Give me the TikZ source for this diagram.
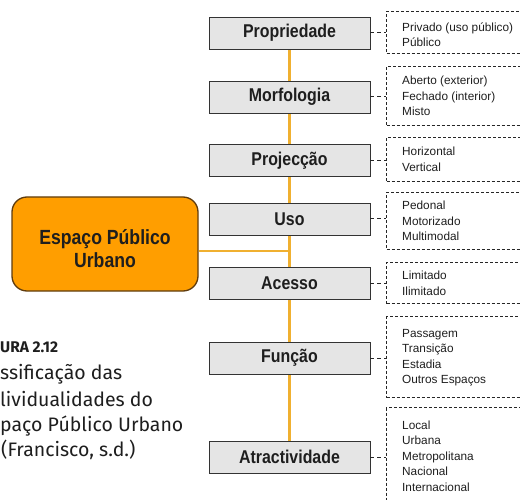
\documentclass[tikz,border=0pt]{standalone}
\usepackage{fontspec}
\setmainfont{Liberation Sans}
\newfontfamily\labfont[FakeStretch=0.86]{Liberation Sans}
\newfontfamily\capfont{Fira Sans}
\usetikzlibrary{backgrounds}
\definecolor{lineor}{RGB}{240,176,48}
\definecolor{boxor}{RGB}{255,158,0}
\definecolor{boxbd}{RGB}{95,60,15}
\definecolor{grayfill}{RGB}{229,229,229}
\definecolor{txt}{RGB}{30,30,30}
\begin{document}
\begin{tikzpicture}[x=1pt,y=-1pt,
  gbox/.style={draw=black!80, line width=0.9pt, fill=grayfill, minimum width=161pt, minimum height=32pt, inner sep=0pt, font=\labfont\bfseries\fontsize{18.5}{20}\selectfont, text=txt},
  dbox/.style={draw=black!85, line width=1pt, dash pattern=on 3pt off 2pt, minimum width=170pt, inner sep=0pt, anchor=north west},
  dtext/.style={anchor=west, align=left, inner sep=0pt, font=\fontsize{11.8}{15.5}\selectfont, text=txt},
  dcon/.style={draw=black!85, line width=1pt, dash pattern=on 4pt off 3pt},
  oline/.style={draw=lineor, line width=2.5pt},
  obox/.style={draw=boxbd, line width=1.3pt, fill=boxor, rounded corners=15pt, minimum width=186pt, minimum height=94pt, inner sep=0pt},
  otext/.style={inner sep=0pt, align=center, font=\labfont\bfseries\fontsize{20.5}{23}\selectfont, text=txt},
  captxt/.style={anchor=base west, inner sep=0pt, font=\capfont\fontsize{19.5}{24}\selectfont, text=txt}]
\useasboundingbox (0,0) rectangle (520,500);
\clip (0,0) rectangle (520,500);
% gray category boxes
\node[gbox] (g1) at (289.5,33) {Propriedade};
\node[gbox] (g2) at (289.5,97) {Morfologia};
\node[gbox] (g3) at (289.5,160.5) {Projecção};
\node[gbox] (g4) at (289.5,219) {Uso};
\node[gbox] (g5) at (289.5,283) {Acesso};
\node[gbox] (g6) at (289.5,358) {Função};
\node[gbox] (g7) at (289.5,457) {Atractividade};
% main box
\node[obox] (esp) at (105,244) {};
\node[otext] (esptxt) at (105,248.5) {Espaço Público\\Urbano};
\coordinate (j) at (289.5,251);
% dashed boxes
\node[dbox, minimum height=42pt] (d1) at (386,11) {};
\node[dbox, minimum height=59pt] (d2) at (386,66) {};
\node[dbox, minimum height=44pt] (d3) at (386,137) {};
\node[dbox, minimum height=57pt] (d4) at (386,192) {};
\node[dbox, minimum height=41pt] (d5) at (386,262) {};
\node[dbox, minimum height=81pt] (d6) at (386,316) {};
\node[dbox, minimum height=100pt] (d7) at (386,407) {};
% texts
\node[dtext] (t1) at (402,34.5) {Privado (uso público)\\Público};
\node[dtext] (t2) at (402,96) {Aberto (exterior)\\Fechado (interior)\\Misto};
\node[dtext] (t3) at (402,159.5) {Horizontal\\Vertical};
\node[dtext] (t4) at (402,221) {Pedonal\\Motorizado\\Multimodal};
\node[dtext] (t5) at (402,283.5) {Limitado\\Ilimitado};
\node[dtext] (t6) at (402,357.5) {Passagem\\Transição\\Estadia\\Outros Espaços};
\node[dtext] (t7) at (402,456) {Local\\Urbana\\Metropolitana\\Nacional\\Internacional};
% dashed connectors
\draw[dcon] (g1.east) -- (g1.east -| d1.west);
\draw[dcon] (g2.east) -- (g2.east -| d2.west);
\draw[dcon] (g3.east) -- (g3.east -| d3.west);
\draw[dcon] (g4.east) -- (g4.east -| d4.west);
\draw[dcon] (g5.east) -- (g5.east -| d5.west);
\draw[dcon] (g6.east) -- (g6.east -| d6.west);
\draw[dcon] (g7.east) -- (g7.east -| d7.west);
% orange connectors
\begin{pgfonlayer}{background}
\draw[oline] (g1.south) -- (g7.north);
\draw[oline] (esp.east |- j) -- (j);
\end{pgfonlayer}
% caption
\node[captxt, font=\capfont\bfseries\fontsize{15.5}{17}\selectfont] (c0) at (0,352.5) {URA 2.12};
\node[captxt] (c1) at (0,379.7) {ssificação das};
\node[captxt] (c2) at (0,406) {lividualidades do};
\node[captxt] (c3) at (0,431.7) {paço Público Urbano};
\node[captxt] (c4) at (1,456.7) {(Francisco, s.d.)};
\end{tikzpicture}
\end{document}
